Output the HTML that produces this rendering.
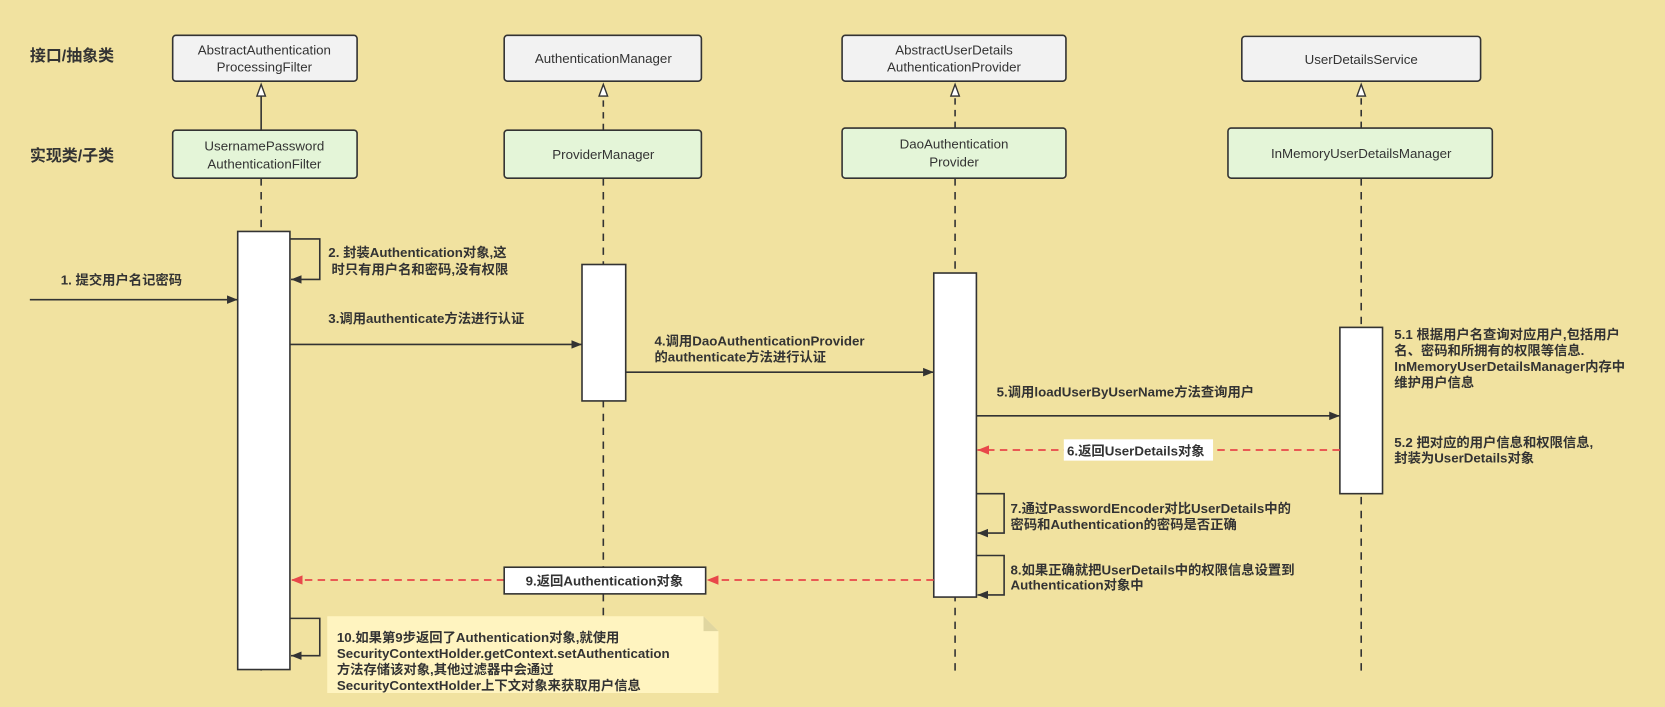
<!DOCTYPE html>
<html><head><meta charset="utf-8"><style>
html,body{margin:0;padding:0;background:#f1e2a0;}
svg{display:block}
text{font-family:"Liberation Sans","Noto Sans CJK SC",sans-serif;font-size:12.5px;fill:#333;}
.b{font-weight:bold}
</style></head><body>
<svg width="1665" height="707" viewBox="0 0 1562 663" xmlns="http://www.w3.org/2000/svg">
<defs>
<marker id="ah" viewBox="0 0 10 10" refX="10" refY="5" markerWidth="10" markerHeight="10" markerUnits="userSpaceOnUse" orient="auto"><path d="M0,1 L10,5 L0,9 Z" fill="#333"/></marker>
<marker id="ar" viewBox="0 0 10 10" refX="10" refY="5" markerWidth="11" markerHeight="11" markerUnits="userSpaceOnUse" orient="auto"><path d="M0,1 L10,5 L0,9 Z" fill="#e8474a"/></marker>
</defs>
<rect width="1562" height="663" fill="#f1e2a0"/>
<text x="28" y="57" class="b" style="font-size:15px">接口/抽象类</text>
<text x="28" y="151" class="b" style="font-size:15px">实现类/子类</text>

<g stroke="#333" stroke-width="1.5">
<rect x="162" y="33" width="173" height="43" rx="3" fill="#f2f2f2"/>
<rect x="473" y="33" width="185" height="43" rx="3" fill="#f2f2f2"/>
<rect x="790" y="33" width="210" height="43" rx="3" fill="#f2f2f2"/>
<rect x="1165" y="34" width="224" height="42" rx="3" fill="#f2f2f2"/>
<rect x="162" y="122" width="173" height="45" rx="3" fill="#e4f5d8"/>
<rect x="473" y="122" width="185" height="45" rx="3" fill="#e4f5d8"/>
<rect x="790" y="120" width="210" height="47" rx="3" fill="#e4f5d8"/>
<rect x="1152" y="120" width="248" height="47" rx="3" fill="#e4f5d8"/>
</g>
<g text-anchor="middle">
<text x="248" y="51">AbstractAuthentication</text><text x="248" y="67">ProcessingFilter</text>
<text x="566" y="59">AuthenticationManager</text>
<text x="895" y="51">AbstractUserDetails</text><text x="895" y="67">AuthenticationProvider</text>
<text x="1277" y="60">UserDetailsService</text>
<text x="248" y="141">UsernamePassword</text><text x="248" y="158">AuthenticationFilter</text>
<text x="566" y="149">ProviderManager</text>
<text x="895" y="139">DaoAuthentication</text><text x="895" y="156">Provider</text>
<text x="1277" y="148">InMemoryUserDetailsManager</text>
</g>

<g stroke="#333" stroke-width="1.5" fill="none">
<line x1="245" y1="122" x2="245" y2="90"/>
<line x1="566" y1="122" x2="566" y2="90" stroke-dasharray="6,5"/>
<line x1="896" y1="120" x2="896" y2="90" stroke-dasharray="6,5"/>
<line x1="1277" y1="120" x2="1277" y2="90" stroke-dasharray="6,5"/>
</g>
<g stroke="#333" stroke-width="1.3" fill="#fff">
<path d="M245,79 L241,90 L249,90 Z"/><path d="M566,79 L562,90 L570,90 Z"/>
<path d="M896,79 L892,90 L900,90 Z"/><path d="M1277,79 L1273,90 L1281,90 Z"/>
</g>

<g stroke="#333" stroke-width="1.5" stroke-dasharray="7,6">
<line x1="245" y1="167" x2="245" y2="630"/>
<line x1="566" y1="167" x2="566" y2="630"/>
<line x1="896" y1="167" x2="896" y2="630"/>
<line x1="1277" y1="167" x2="1277" y2="630"/>
</g>

<g stroke="#333" stroke-width="1.5" fill="#fff">
<rect x="223" y="217" width="49" height="411"/>
<rect x="546" y="248" width="41" height="128"/>
<rect x="876" y="256" width="40" height="304"/>
<rect x="1257" y="307" width="40" height="156"/>
</g>

<g stroke="#333" stroke-width="1.5" fill="none">
<line x1="28" y1="281" x2="223" y2="281" marker-end="url(#ah)"/>
<path d="M272,224 H300 V262 H273" marker-end="url(#ah)"/>
<line x1="272" y1="323" x2="546" y2="323" marker-end="url(#ah)"/>
<line x1="587" y1="349" x2="876" y2="349" marker-end="url(#ah)"/>
<line x1="916" y1="390" x2="1257" y2="390" marker-end="url(#ah)"/>
<path d="M916,463 H942 V500 H917" marker-end="url(#ah)"/>
<path d="M916,521 H942 V558 H917" marker-end="url(#ah)"/>
<path d="M272,580 H300 V615 H273" marker-end="url(#ah)"/>
</g>
<g stroke="#e8474a" stroke-width="1.6" fill="none" stroke-dasharray="7,5">
<line x1="1257" y1="422" x2="917" y2="422" marker-end="url(#ar)"/>
<line x1="876" y1="544" x2="663" y2="544" marker-end="url(#ar)"/>
<line x1="473" y1="544" x2="273" y2="544" marker-end="url(#ar)"/>
</g>
<rect x="998" y="412" width="140" height="20" fill="#fff"/>
<text x="1001" y="427" class="b">6.返回UserDetails对象</text>
<rect x="473" y="532" width="189" height="25" fill="#fff" stroke="#333" stroke-width="1.5"/>
<text x="567" y="549" class="b" text-anchor="middle">9.返回Authentication对象</text>

<g class="b">
<text x="57" y="267" class="b">1. 提交用户名记密码</text>
<text x="308" y="241" class="b">2. 封装Authentication对象,这</text>
<text x="311" y="257" class="b">时只有用户名和密码,没有权限</text>
<text x="308" y="303" class="b">3.调用authenticate方法进行认证</text>
<text x="614" y="324" class="b">4.调用DaoAuthenticationProvider</text>
<text x="614" y="339" class="b">的authenticate方法进行认证</text>
<text x="935" y="372" class="b">5.调用loadUserByUserName方法查询用户</text>
<text x="1308" y="318" class="b">5.1 根据用户名查询对应用户,包括用户</text>
<text x="1308" y="333" class="b">名、密码和所拥有的权限等信息.</text>
<text x="1308" y="348" class="b">InMemoryUserDetailsManager内存中</text>
<text x="1308" y="363" class="b">维护用户信息</text>
<text x="1308" y="419" class="b">5.2 把对应的用户信息和权限信息,</text>
<text x="1308" y="434" class="b">封装为UserDetails对象</text>
<text x="948" y="481" class="b">7.通过PasswordEncoder对比UserDetails中的</text>
<text x="948" y="496" class="b">密码和Authentication的密码是否正确</text>
<text x="948" y="539" class="b">8.如果正确就把UserDetails中的权限信息设置到</text>
<text x="948" y="553" class="b">Authentication对象中</text>
</g>

<path d="M307,578 H660 L674,592 V650 H307 Z" fill="#fff4c0"/>
<path d="M660,578 L674,592 H660 Z" fill="#e0d6a0"/>
<g>
<text x="316" y="602" class="b">10.如果第9步返回了Authentication对象,就使用</text>
<text x="316" y="617" class="b">SecurityContextHolder.getContext.setAuthentication</text>
<text x="316" y="632" class="b">方法存储该对象,其他过滤器中会通过</text>
<text x="316" y="647" class="b">SecurityContextHolder上下文对象来获取用户信息</text>
</g>
</svg>
</body></html>
